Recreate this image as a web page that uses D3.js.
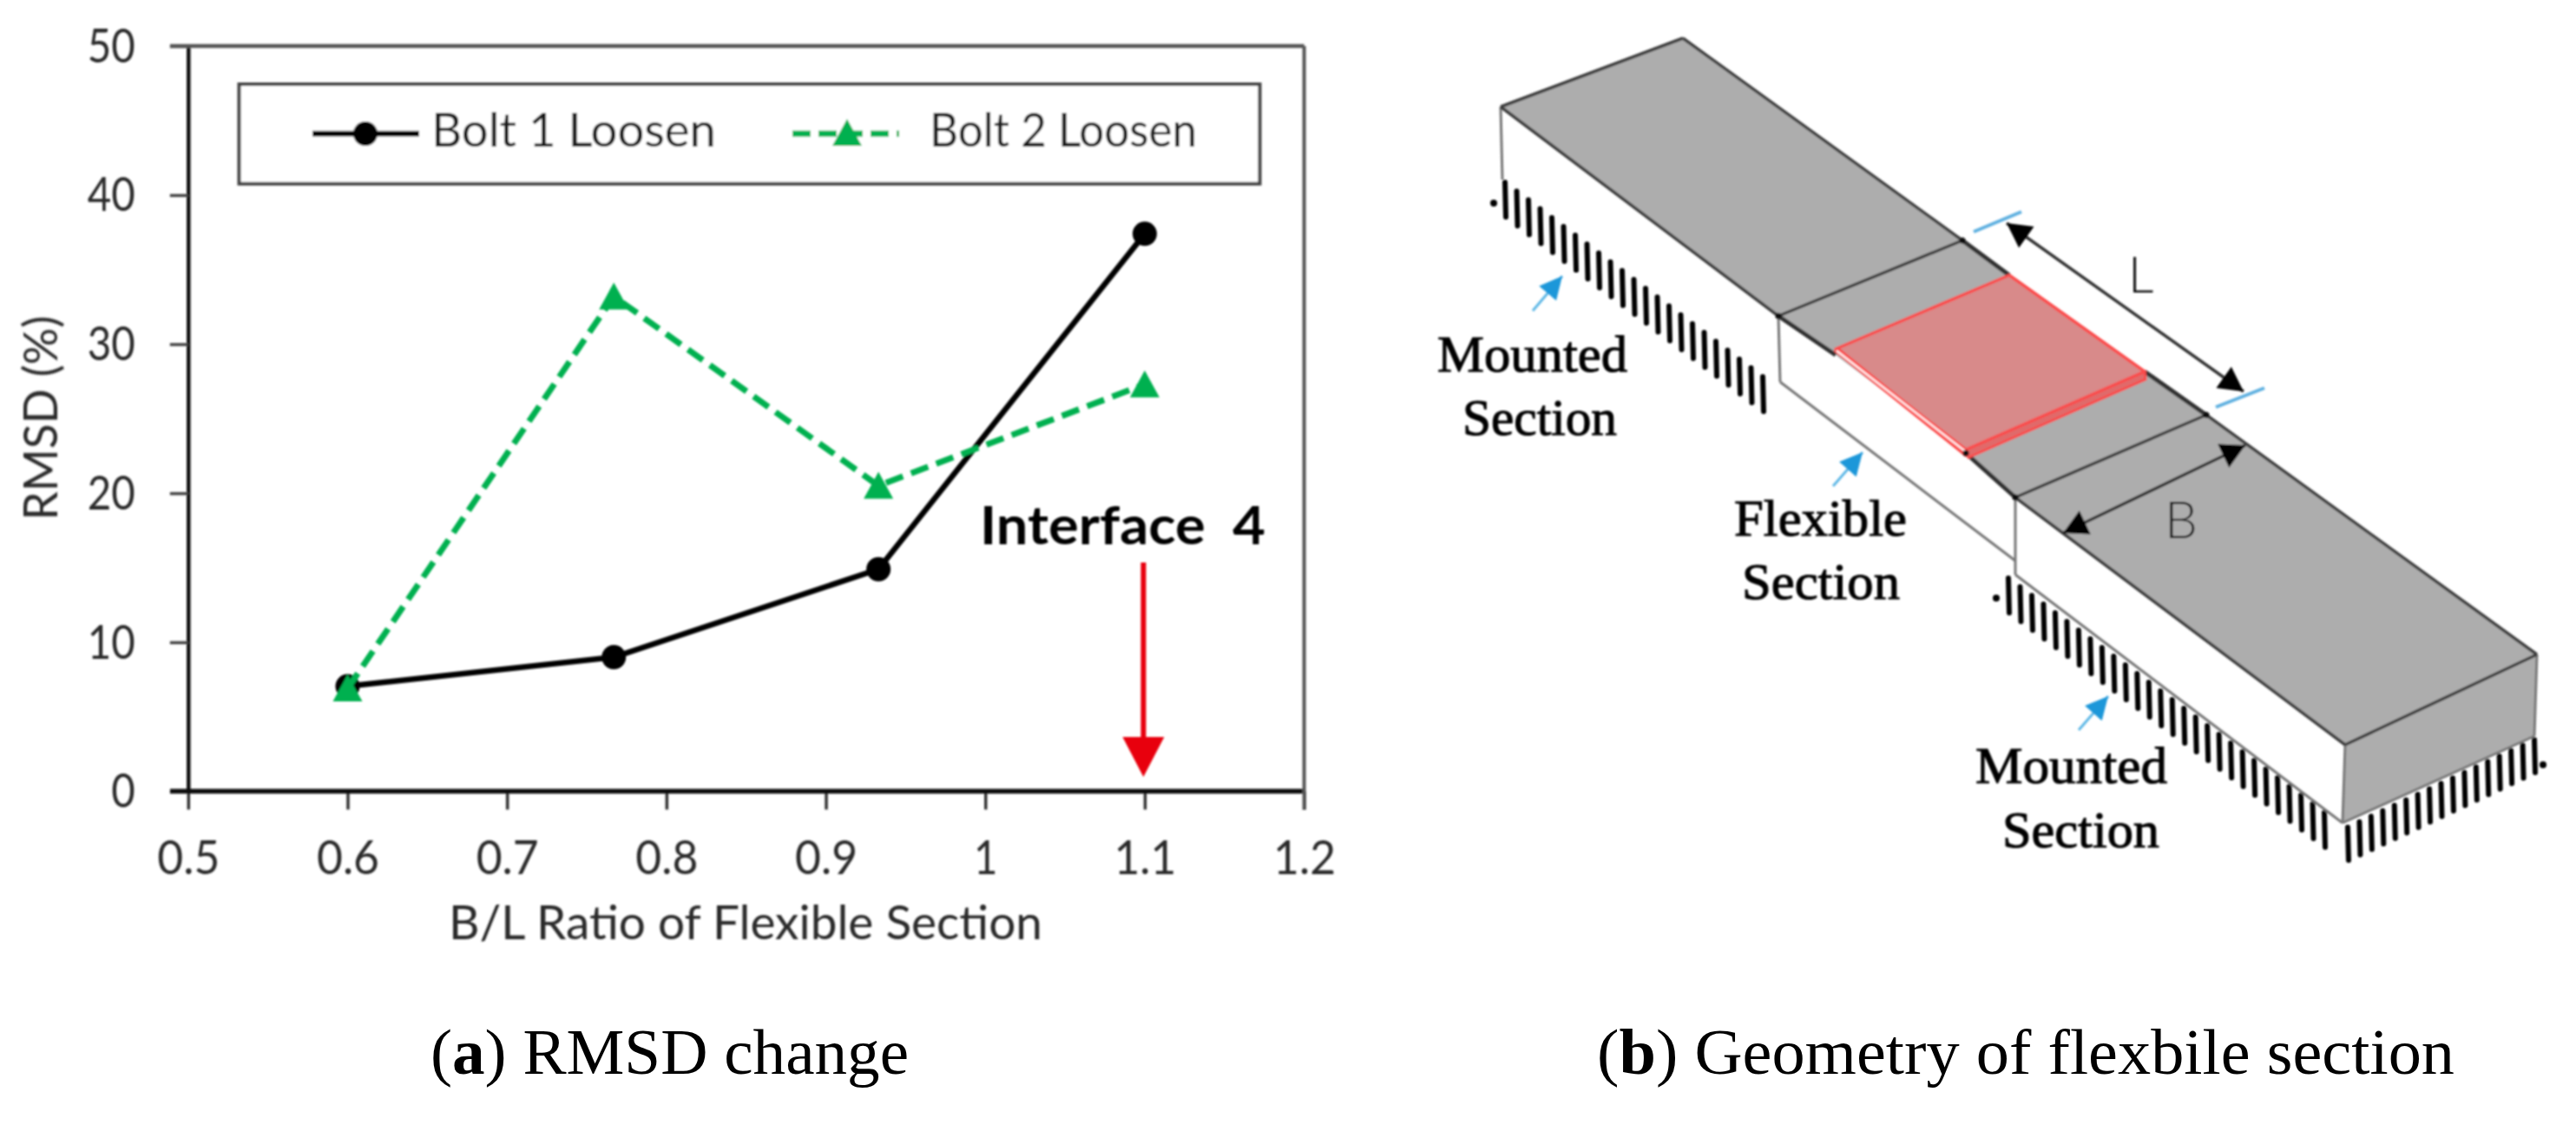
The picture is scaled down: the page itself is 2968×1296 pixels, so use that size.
<!DOCTYPE html>
<html><head><meta charset="utf-8">
<script src="https://cdn.jsdelivr.net/npm/d3@7"></script>
<style>html,body{margin:0;padding:0;background:#fff}svg{display:block}</style>
</head><body><svg id="c" width="2968" height="1296" xmlns="http://www.w3.org/2000/svg">
<defs><filter id="soft" filterUnits="userSpaceOnUse" x="0" y="0" width="2968" height="1296"><feGaussianBlur stdDeviation="0.9"/></filter></defs>
</svg>
<script>
// ---- chart data
const ratios = [0.6, 0.767, 0.933, 1.1];
const bolt1 = [7.05, 9.0, 14.9, 37.4];
const bolt2 = [6.9, 33.2, 20.5, 27.3];
const xTicks = [0.5, 0.6, 0.7, 0.8, 0.9, 1, 1.1, 1.2];
const yTicks = [0, 10, 20, 30, 40, 50];
const legendNames = ["Bolt 1 Loosen", "Bolt 2 Loosen"];
const arrowValueX = 1.1;

// ---- geometry sketch (panel b), picture coordinates
const topFace = [[1729,123],[1939,44],[2923,754],[2702,858],[2322,573],[2265,522],[2115,409],[2049,364]];
const endFace = [[2702,858],[2923,754],[2920,848],[2699,948]];
const thinLines = [
  [[1729,123],[1731,207]],[[2049,364],[2051,440]],[[2051,440],[2322,646]],
  [[2322,573],[2322,662]],[[2322,662],[2699,948]],[[2702,858],[2699,948]],[[2923,754],[2920,848]],[[2699,948],[2920,848]]];
const edgeLines = [
  [[1729,123],[1939,44]],[[1729,123],[2049,364]],[[1939,44],[2261,277]],
  [[2049,364],[2261,277]],[[2322,573],[2542,478]],[[2322,573],[2702,858]],
  [[2542,478],[2923,754]],[[2702,858],[2923,754]]];
const heavyLines = [[[2049,364],[2115,409]],[[2265,522],[2322,573]],[[2261,277],[2315,317]],[[2471,428],[2542,478]]];
const plate = [[2115,402],[2315,317],[2471,428],[2265,518]];
const plateStrip = [[2265,518],[2471,428],[2472,437],[2268,527]];
const hatchRows = [
  {from:[1734,210],to:[2031,434],n:23,h:40,dots:[[1721,234]]},
  {from:[2314,666],to:[2678,936],n:28,h:40,dots:[[2300,689]]},
  {from:[2705,953],to:[2920,852],n:17,h:38,dots:[[2930,881]]}];
const blueArrows = [[[1766,358],[1800,318]],[[2112,560],[2146,521]],[[2395,841],[2429,802]]];
const blueTicks = [[[2274,267],[2329,244]],[[2553,469],[2609,447]]];
const dimArrows = [[[2312,257],[2585,451]],[[2377,614],[2587,513]]];
const joints = [[2049,364],[2261,277],[2322,573],[2542,478],[2265,522]];
const sketchLabels = [
  {t:"Mounted",x:1656,y:428,w:219},{t:"Section",x:1685,y:501,w:178},
  {t:"Flexible",x:1998,y:617,w:199},{t:"Section",x:2007,y:690,w:182},
  {t:"Mounted",x:2276,y:902,w:221},{t:"Section",x:2307,y:976,w:181}];

const root = d3.select("#c");
const svg = root.append("g").attr("filter","url(#soft)");
const sans = "Lato, sans-serif", serif = "'Liberation Serif', serif";
const x = d3.scaleLinear().domain([0.5,1.2]).range([216.8,1502.6]);
const y = d3.scaleLinear().domain([0,50]).range([911.6,53]);
const L = d3.line(), lp = d3.line().x((d,i)=>x(ratios[i])).y(d=>y(d));
const GREEN="#00b050", TXT="#2b2b2b";
const txtW = s => { s=String(s); let w=0; for(const c of s) w += c==="."?17:27.5; return w; };

// axes
const gy = svg.append("g").attr("transform",`translate(${x(0.5)},0)`)
  .call(d3.axisLeft(y).tickValues(yTicks).tickSize(21).tickSizeOuter(0).tickPadding(40));
const gx = svg.append("g").attr("transform",`translate(0,${y(0)})`)
  .call(d3.axisBottom(x).tickValues(xTicks).tickSize(21).tickSizeOuter(0).tickFormat(d=>String(d)));
gy.select(".domain").attr("stroke","#111").attr("stroke-width",4.5);
gx.select(".domain").attr("stroke","none");
gy.selectAll(".tick line").attr("stroke","#444").attr("stroke-width",3.5);
gx.selectAll(".tick line").attr("stroke","#333").attr("stroke-width",3.5);
gy.selectAll("text").attr("font-family",sans).attr("font-size",55).attr("fill",TXT)
  .attr("dy","0.33em").attr("textLength",d=>txtW(d)).attr("lengthAdjust","spacingAndGlyphs");
gx.selectAll("text").attr("font-family",sans).attr("font-size",55).attr("fill",TXT)
  .attr("y",95.5).attr("dy",0).attr("textLength",d=>txtW(d)).attr("lengthAdjust","spacingAndGlyphs");
// frame
svg.append("path").attr("d",L([[196,y(50)],[x(1.2),y(50)]])).attr("stroke","#555").attr("stroke-width",4.5).attr("fill","none");
svg.append("path").attr("d",L([[196,y(0)],[x(1.2),y(0)]])).attr("stroke","#111").attr("stroke-width",5.5).attr("fill","none");
svg.append("path").attr("d",L([[x(1.2),y(50)],[x(1.2),933]])).attr("stroke","#555").attr("stroke-width",4).attr("fill","none");

// axis titles
svg.append("text").text("RMSD (%)").attr("transform",`translate(66,481.5) rotate(-90)`).attr("text-anchor","middle")
  .attr("font-family",sans).attr("font-size",55).attr("fill",TXT).attr("textLength",236).attr("lengthAdjust","spacingAndGlyphs");
svg.append("text").text("B/L Ratio of Flexible Section").attr("x",859).attr("y",1082).attr("text-anchor","middle")
  .attr("font-family",sans).attr("font-size",54).attr("fill",TXT).attr("textLength",684).attr("lengthAdjust","spacingAndGlyphs");

// legend
svg.append("rect").attr("x",275.5).attr("y",97).attr("width",1176).attr("height",114.7)
  .attr("fill","#fff").attr("stroke","#444").attr("stroke-width",4);
svg.append("path").attr("d",L([[360,154],[483,154]])).attr("stroke","#000").attr("stroke-width",6.5).attr("fill","none");
svg.append("circle").attr("cx",421).attr("cy",154).attr("r",14).attr("fill","#000");
svg.append("path").attr("d",L([[913,154],[1036,154]])).attr("stroke",GREEN).attr("stroke-width",7).attr("stroke-dasharray","21 9").attr("fill","none");
const tri = (cx,cy) => L([[cx,cy-16],[cx+17,cy+15],[cx-17,cy+15]])+"Z";
svg.append("path").attr("d",tri(976,153)).attr("fill",GREEN);
[[497,328],[1071,308]].forEach((p,i)=>svg.append("text").text(legendNames[i]).attr("x",p[0]).attr("y",169)
  .attr("font-family",sans).attr("font-size",54).attr("fill","#1c1c1c").attr("textLength",p[1]).attr("lengthAdjust","spacingAndGlyphs"));

// series
svg.append("path").attr("d",lp(bolt1)).attr("fill","none").attr("stroke","#000").attr("stroke-width",6.5);
svg.selectAll("circle.b1").data(bolt1).join("circle").attr("class","b1")
  .attr("cx",(d,i)=>x(ratios[i])).attr("cy",d=>y(d)).attr("r",14).attr("fill","#000");
svg.append("path").attr("d",lp(bolt2)).attr("fill","none").attr("stroke",GREEN).attr("stroke-width",7).attr("stroke-dasharray","21 10");
svg.selectAll("path.b2").data(bolt2).join("path").attr("class","b2")
  .attr("d",(d,i)=>tri(x(ratios[i]),y(d))).attr("fill",GREEN);

// annotation
svg.append("text").text("Interface  4").attr("x",1129).attr("y",627).style("white-space","pre")
  .attr("font-family",sans).attr("font-weight",700).attr("font-size",61).attr("fill","#000")
  .attr("textLength",329).attr("lengthAdjust","spacingAndGlyphs");
const ax = x(arrowValueX)-1.5;
svg.append("path").attr("d",L([[ax,648],[ax,855]])).attr("stroke","#e8000d").attr("stroke-width",6).attr("fill","none");
svg.append("path").attr("d",L([[ax-24,849],[ax+24,849],[ax,895]])+"Z").attr("fill","#e8000d");

// captions
function caption(letter,rest,xp,w){
  const t=root.append("text").attr("x",xp).attr("y",1237).attr("font-family",serif).attr("font-size",74).attr("fill","#000")
    .attr("textLength",w).attr("lengthAdjust","spacingAndGlyphs");
  t.append("tspan").text("(");
  t.append("tspan").text(letter).attr("font-weight",700);
  t.append("tspan").text(") "+rest);
}
caption("a","RMSD change",496,551);
caption("b","Geometry of flexbile section",1840,988);

// ---- panel b
svg.append("path").attr("d",L(topFace)+"Z").attr("fill","#adadad");
svg.append("path").attr("d",L(endFace)+"Z").attr("fill","#adadad");
hatchRows.forEach(r=>{
  const n=r.n, g=svg.append("g");
  d3.range(n).forEach(i=>{
    const t=i/(n-1), px=r.from[0]+(r.to[0]-r.from[0])*t, py=r.from[1]+(r.to[1]-r.from[1])*t;
    g.append("path").attr("d",L([[px,py],[px+1,py+r.h]])).attr("stroke","#000").attr("stroke-width",6).attr("stroke-linecap","round").attr("fill","none");
  });
  r.dots.forEach(d=>g.append("circle").attr("cx",d[0]).attr("cy",d[1]).attr("r",4).attr("fill","#000"));
});
thinLines.forEach(s=>svg.append("path").attr("d",L(s)).attr("stroke","#777").attr("stroke-width",3).attr("fill","none"));
edgeLines.forEach(s=>svg.append("path").attr("d",L(s)).attr("stroke","#3c3c3c").attr("stroke-width",3.5).attr("fill","none"));
heavyLines.forEach(s=>svg.append("path").attr("d",L(s)).attr("stroke","#333").attr("stroke-width",5).attr("fill","none"));
// plate
svg.append("path").attr("d",L(plateStrip)+"Z").attr("fill","#e06a6a").attr("stroke","#fb4b4b").attr("stroke-width",3);
svg.append("path").attr("d",L(plate)+"Z").attr("fill","#d88a8a").attr("stroke","#fb4b4b").attr("stroke-width",3.5).attr("stroke-linejoin","round");
svg.append("path").attr("d",L([plate[0],[2267,524]])).attr("stroke","#fb4b4b").attr("stroke-width",7).attr("fill","none");
svg.append("path").attr("d",L([[2116,404],[2267,522]])).attr("stroke","#fff0f0").attr("stroke-width",2.4).attr("fill","none");
joints.forEach(p=>svg.append("circle").attr("cx",p[0]).attr("cy",p[1]).attr("r",3.5).attr("fill","#111"));
// arrowheads
function head(a,b,len,hw,fill){
  const ang=Math.atan2(b[1]-a[1],b[0]-a[0]),c=Math.cos(ang),s=Math.sin(ang);
  const bx=b[0]-c*len,by=b[1]-s*len;
  svg.append("path").attr("d",L([b,[bx-s*hw,by+c*hw],[bx+s*hw,by-c*hw]])+"Z").attr("fill",fill);
}
blueArrows.forEach(s=>{
  svg.append("path").attr("d",L(s)).attr("stroke","#5fb8e6").attr("stroke-width",3).attr("fill","none");
  head(s[0],s[1],26,13,"#1f97d9");
});
blueTicks.forEach(s=>svg.append("path").attr("d",L(s)).attr("stroke","#5fb0e0").attr("stroke-width",4).attr("fill","none"));
dimArrows.forEach(s=>{
  svg.append("path").attr("d",L(s)).attr("stroke","#333").attr("stroke-width",3.5).attr("fill","none");
  head(s[0],s[1],28,15,"#000"); head(s[1],s[0],28,15,"#000");
});
sketchLabels.forEach(l=>svg.append("text").text(l.t).attr("x",l.x).attr("y",l.y).attr("font-family",serif).attr("font-size",60)
  .attr("fill","#000").attr("stroke","#000").attr("stroke-width",1.1).attr("textLength",l.w).attr("lengthAdjust","spacingAndGlyphs"));
svg.append("text").text("L").attr("x",2452).attr("y",337).attr("font-family",sans).attr("font-weight",300).attr("font-size",58).attr("fill","#111");
svg.append("text").text("B").attr("x",2494).attr("y",620).attr("font-family",sans).attr("font-weight",300).attr("font-size",60).attr("fill","#111");
</script></body></html>
